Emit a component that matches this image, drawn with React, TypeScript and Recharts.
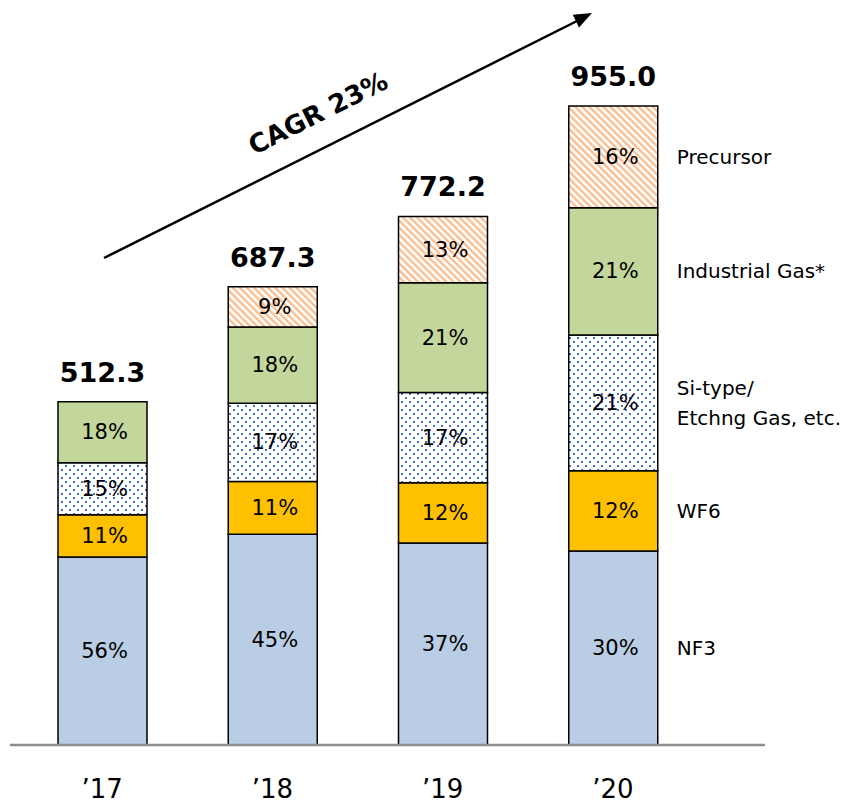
import { BarChart, Bar, XAxis, YAxis, LabelList } from 'recharts'

const FONT = "'DejaVu Sans', Verdana, sans-serif"

const years = ['\u201917', '\u201918', '\u201919', '\u201920']
const totals = ['512.3', '687.3', '772.2', '955.0']

// segment sizes, same unit as the totals
const nf3 = [281, 315, 302, 290]
const wf6 = [63, 79, 90, 120]
const siType = [78, 117, 135, 203]
const industrialGas = [91, 114, 164, 190]
const precursor = [null, 60, 99, 152]

// share labels printed in each segment
const nf3Pct = ['56%', '45%', '37%', '30%']
const wf6Pct = ['11%', '11%', '12%', '12%']
const siTypePct = ['15%', '17%', '17%', '21%']
const industrialGasPct = ['18%', '18%', '21%', '21%']
const precursorPct = ['', '9%', '13%', '16%']

const data = years.map((year, i) => ({
  year,
  total: totals[i],
  nf3: nf3[i],
  wf6: wf6[i],
  siType: siType[i],
  industrialGas: industrialGas[i],
  precursor: precursor[i],
  nf3Pct: nf3Pct[i],
  wf6Pct: wf6Pct[i],
  siTypePct: siTypePct[i],
  industrialGasPct: industrialGasPct[i],
  precursorPct: precursorPct[i],
}))

const lastYear = years[years.length - 1]

const series = [
  { key: 'nf3', name: ['NF3'], fill: '#B9CDE5' },
  { key: 'wf6', name: ['WF6'], fill: '#FFC000' },
  { key: 'siType', name: ['Si-type/', 'Etchng Gas, etc.'], fill: 'url(#dots)' },
  { key: 'industrialGas', name: ['Industrial Gas*'], fill: '#C3D69B' },
  { key: 'precursor', name: ['Precursor'], fill: 'url(#hatch)' },
]

const box = (props: any) => props.viewBox ?? props

const pctLabel = (props: any) => {
  const { x, y, width, height } = box(props)
  if (!props.value || !height) return null
  return (
    <text x={x + width / 2 + 2} y={y + height / 2} textAnchor="middle" dominantBaseline="central"
      fontSize={21} fontFamily={FONT} fill="#000">
      {props.value}
    </text>
  )
}

// series name to the right of the last bar
const nameLabel = (lines: string[]) => (props: any) => {
  if (!props.value) return null
  const { x, y, width, height } = box(props)
  const cy = y + height / 2 - ((lines.length - 1) * 30) / 2
  return (
    <text x={x + width + 19} y={cy} dominantBaseline="central" fontSize={20} fontFamily={FONT} fill="#000">
      {lines.map((l, i) => (
        <tspan key={i} x={x + width + 19} dy={i === 0 ? 0 : 30}>{l}</tspan>
      ))}
    </text>
  )
}

const totalLabel = (props: any) => {
  if (!props.value) return null
  const { x, y, width } = box(props)
  return (
    <text x={x + width / 2} y={y - 20} textAnchor="middle" fontSize={27} fontWeight="bold"
      fontFamily={FONT} fill="#000">
      {props.value}
    </text>
  )
}

const YearTick = (props: any) => {
  const { x, y, payload } = props
  return (
    <text x={x} y={y + 53} textAnchor="middle" fontSize={26} fontFamily={FONT} fill="#000">
      {payload.value}
    </text>
  )
}

export default function App() {
  return (
    <div style={{ position: 'absolute', left: 0, top: 0, width: 851, height: 803, background: '#fff' }}>
      <BarChart width={851} height={803} data={data} margin={{ top: 76, right: 86, left: 10, bottom: 0 }}>
        <defs>
          <pattern id="dots" patternUnits="userSpaceOnUse" width={8} height={8}>
            <rect width={8} height={8} fill="#fff" />
            <rect x={1} y={1} width={2} height={2} fill="#4472C4" />
            <rect x={5} y={5} width={2} height={2} fill="#4472C4" />
          </pattern>
          <pattern id="hatch" patternUnits="userSpaceOnUse" width={5} height={5} patternTransform="rotate(-45)">
            <rect width={5} height={5} fill="#fff" />
            <rect width={2.4} height={5} fill="#FABD8F" />
          </pattern>
        </defs>
        <XAxis dataKey="year" height={58} tickLine={false} tickSize={0} tickMargin={0}
          axisLine={{ stroke: '#8c8c8c', strokeWidth: 2.5 }} tick={<YearTick />}
          padding={{ left: 7, right: 67 }} interval={0} />
        <YAxis hide domain={[0, 1000]} />
        {series.map((s) => (
          <Bar key={s.key} dataKey={s.key} stackId="a" fill={s.fill} stroke="#000" strokeWidth={1.5}
            barSize={89} isAnimationActive={false}>
            <LabelList dataKey={`${s.key}Pct`} content={pctLabel} />
            <LabelList dataKey={(d: any) => (d.year === lastYear ? s.key : '')} content={nameLabel(s.name)} />
            {s.key === 'industrialGas' && (
              <LabelList dataKey={(d: any) => (d.precursor == null ? d.total : '')} content={totalLabel} />
            )}
            {s.key === 'precursor' && <LabelList dataKey="total" content={totalLabel} />}
          </Bar>
        ))}
      </BarChart>
      <svg width={851} height={803} style={{ position: 'absolute', left: 0, top: 0, pointerEvents: 'none' }}>
        <line x1={104} y1={258} x2={577} y2={21} stroke="#000" strokeWidth={2.5} />
        <polygon points="592,13 579,27.4 572.8,14.8" fill="#000" />
        <text x={318} y={113} textAnchor="middle" dominantBaseline="central" fontSize={26} fontWeight="bold"
          fontFamily={FONT} fill="#000" transform="rotate(-26.7 318 113)">
          CAGR 23%
        </text>
      </svg>
    </div>
  )
}
